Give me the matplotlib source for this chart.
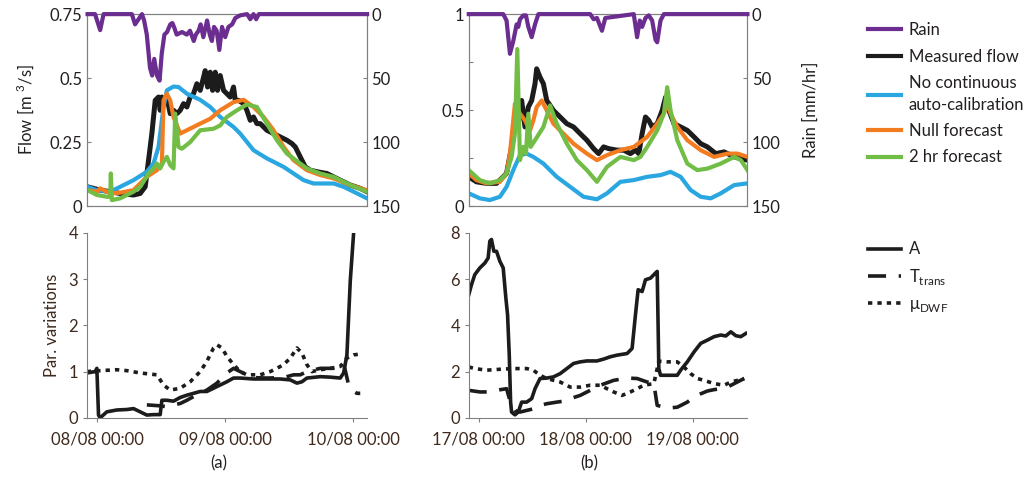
import matplotlib
matplotlib.use('Agg')
import matplotlib.pyplot as plt
from matplotlib.lines import Line2D

plt.rcParams['font.family'] = ['Lato', 'DejaVu Sans']
plt.rcParams['font.size'] = 12
plt.rcParams['mathtext.fontset'] = 'custom'
plt.rcParams['mathtext.rm'] = 'Lato'

# ---- panel (a): 08/08 - 10/08, time in hours from 08/08 00:00
rain_a_t = [-1.8, -0.4, 0.56, 1.2, 6.5, 7.1, 8.4, 8.8, 9.3, 9.9, 10.3, 10.7, 11.2, 11.7, 12.1, 12.6,
            13.1, 13.7, 14.1, 14.4, 14.9, 15.9, 16.8, 17.4, 18.1, 18.5, 19.0, 19.4, 19.9, 20.6, 21.1,
            21.5, 21.9, 22.4, 22.9, 23.4, 24.0, 24.6, 25.3, 25.9, 26.8, 28.1, 28.7, 29.3, 29.8, 30.3, 50.6]
rain_a = [0, 0, 12.5, 0, 0, 8, 0, 5, 16, 42, 48, 35, 48, 52, 31, 16,
          14, 8, 7, 10, 16, 14, 16, 13, 21, 16, 13, 8, 18, 5, 16,
          21, 10, 13, 28, 10, 18, 10, 8, 3, 1, 0, 4, 0, 4, 0, 0]

meas_a_t = [-1.8, 0.56, 2.44, 4.31, 6.81, 8.06, 9.0, 9.63, 10.25, 10.88, 11.5, 11.81, 12.13, 12.44,
            13.06, 13.69, 14.31, 14.94, 15.56, 16.19, 16.81, 17.44, 18.06, 18.69, 19.31, 19.94, 20.25,
            20.69, 21.19, 21.63, 22.13, 22.56, 23.06, 23.69, 24.31, 24.94, 25.56, 25.88, 26.5, 27.44,
            28.06, 28.69, 29.31, 29.94, 30.56, 31.19, 31.81, 33.06, 34.31, 35.56, 36.5, 37.13, 38.06,
            39.0, 39.94, 41.19, 43.06, 44.31, 45.56, 47.44, 49.31, 50.56]
meas_a = [0.075, 0.062, 0.056, 0.049, 0.043, 0.049, 0.075, 0.179, 0.283, 0.413, 0.426, 0.374, 0.426, 0.40,
          0.426, 0.361, 0.374, 0.361, 0.374, 0.40, 0.387, 0.426, 0.439, 0.478, 0.452, 0.503, 0.529,
          0.465, 0.523, 0.452, 0.523, 0.452, 0.51, 0.452, 0.439, 0.426, 0.465, 0.413, 0.413, 0.40,
          0.374, 0.335, 0.348, 0.322, 0.322, 0.309, 0.296, 0.283, 0.27, 0.257, 0.244, 0.231, 0.192,
          0.153, 0.14, 0.134, 0.127, 0.114, 0.101, 0.082, 0.069, 0.056]

nocal_a_t = [-1.8, -0.06, 2.44, 4.31, 6.81, 9.31, 10.56, 11.5, 12.44, 13.06, 14.31, 15.25, 16.81, 19.31,
             21.19, 23.06, 25.56, 26.81, 29.31, 31.81, 34.94, 36.81, 38.69, 40.56, 44.31, 46.19, 48.06, 50.56]
nocal_a = [0.075, 0.062, 0.056, 0.075, 0.101, 0.134, 0.166, 0.231, 0.387, 0.452, 0.467, 0.465, 0.439, 0.415,
           0.387, 0.348, 0.309, 0.283, 0.218, 0.186, 0.153, 0.127, 0.101, 0.088, 0.088, 0.075, 0.056, 0.03]

null_a_t = [-1.8, -0.06, 0.56, 2.44, 4.31, 6.81, 9.31, 11.19, 12.13, 12.44, 13.06, 13.69, 14.31, 15.56,
            16.81, 19.31, 21.19, 23.06, 25.56, 27.44, 29.31, 31.19, 33.06, 34.94, 36.81, 39.31, 41.81,
            44.31, 47.44, 50.56]
null_a = [0.062, 0.056, 0.069, 0.049, 0.052, 0.062, 0.114, 0.14, 0.166, 0.413, 0.439, 0.413, 0.348, 0.283,
          0.296, 0.322, 0.341, 0.374, 0.406, 0.415, 0.387, 0.348, 0.296, 0.231, 0.179, 0.14, 0.121,
          0.108, 0.082, 0.062]

fc2_a_t = [-1.8, -0.06, 1.81, 2.44, 2.56, 2.75, 4.31, 6.81, 8.06, 9.63, 10.56, 11.19, 11.81, 12.44, 13.06,
           13.69, 14.31, 14.63, 15.25, 15.88, 17.44, 19.31, 21.81, 23.06, 24.31, 26.19, 28.06, 29.94,
           31.81, 33.69, 35.56, 38.06, 39.31, 41.81, 44.31, 47.44, 50.56]
fc2_a = [0.062, 0.043, 0.036, 0.036, 0.127, 0.023, 0.03, 0.056, 0.075, 0.127, 0.147, 0.166, 0.147, 0.173, 0.192,
         0.16, 0.147, 0.361, 0.231, 0.224, 0.25, 0.296, 0.302, 0.315, 0.348, 0.374, 0.397, 0.387,
         0.322, 0.257, 0.205, 0.166, 0.147, 0.127, 0.114, 0.082, 0.056]

A_a_t = [-1.94, -0.38, -0.06, 0.25, 0.56, 1.81, 3.69, 5.56, 6.81, 8.06, 9.31, 10.56, 11.81, 12.13, 13.06,
         14.31, 15.56, 16.81, 18.06, 19.31, 20.56, 21.81, 23.06, 24.31, 25.56, 26.81, 29.31, 31.81,
         34.31, 36.19, 37.44, 38.38, 39.31, 41.81, 43.69, 45.56, 46.19, 46.81, 47.44, 48.06]
A_a = [0.97, 1.0, 1.07, 0.06, 0.0, 0.13, 0.17, 0.18, 0.2, 0.13, 0.06, 0.07, 0.07, 0.38, 0.38,
       0.36, 0.44, 0.49, 0.53, 0.57, 0.57, 0.64, 0.71, 0.78, 0.86, 0.86, 0.84, 0.84,
       0.84, 0.82, 0.75, 0.78, 0.86, 0.89, 0.88, 0.86, 0.97, 1.36, 2.96, 3.98]

Tt_a_t = [9.31, 11.81, 13.06, 14.31, 15.56, 16.81, 18.06, 19.31, 20.56, 22.44, 24.31, 25.56, 26.81, 28.06,
          29.31, 31.81, 34.94, 36.81, 38.06, 39.31, 41.81, 44.31, 46.19, 47.13, 47.75, 48.69, 49.31]
Tt_a = [0.28, 0.26, 0.24, 0.28, 0.31, 0.38, 0.46, 0.53, 0.6, 0.75, 0.97, 1.07, 1.0, 0.93,
        0.87, 0.86, 0.87, 0.93, 0.93, 1.0, 1.07, 1.07, 1.18, 0.71, 0.6, 0.53, 0.53]

mu_a_t = [-1.94, 0.56, 3.69, 5.56, 8.06, 11.19, 12.44, 13.69, 15.56, 17.44, 19.31, 20.56, 21.81, 22.44,
          23.38, 24.31, 25.56, 26.81, 28.06, 30.56, 32.44, 33.69, 34.94, 36.19, 37.44, 38.38, 39.31,
          40.25, 41.81, 43.69, 45.56, 46.81, 48.06, 49.31]
mu_a = [1.0, 1.02, 1.04, 1.02, 0.97, 0.93, 0.71, 0.6, 0.64, 0.78, 1.0, 1.22, 1.51, 1.58,
        1.51, 1.33, 1.15, 1.0, 0.93, 0.93, 1.0, 1.07, 1.15, 1.29, 1.51, 1.4, 1.15,
        1.0, 1.04, 1.07, 1.11, 1.29, 1.36, 1.38]

# ---- panel (b): 17/08 - 19/08, time in hours from 17/08 00:00
rain_b_t = [-2.25, 5.48, 6.23, 6.99, 7.74, 8.49, 8.86, 9.24, 9.99, 10.59, 11.12, 11.87, 12.62, 13.37,
            25.01, 25.77, 26.52, 27.64, 28.39, 34.78, 35.53, 36.13, 36.66, 37.41, 38.16, 38.91, 39.66,
            40.04, 40.79, 41.54, 60.3]
rain_b = [0, 0, 5, 31, 21, 8, 10, 4, 1, 1, 10, 18, 8, 0,
          0, 4, 3, 13, 3, 0, 18, 5, 10, 3, 1, 5, 20,
          22, 5, 0, 0]

meas_b_t = [-2.25, -0.53, 1.73, 3.98, 5.48, 6.23, 7.36, 8.11, 8.86, 9.62, 10.37, 11.12, 11.87, 12.62,
            12.99, 13.75, 14.5, 15.25, 16.75, 18.25, 19.76, 21.26, 22.76, 24.26, 25.77, 26.89, 28.02,
            29.15, 31.03, 32.53, 34.03, 35.16, 35.91, 36.66, 37.41, 38.16, 38.91, 40.04, 41.17, 41.92,
            42.67, 43.8, 45.3, 46.8, 48.31, 49.81, 51.31, 53.19, 55.06, 57.32, 58.82, 60.3]
meas_b = [0.152, 0.126, 0.118, 0.118, 0.152, 0.17, 0.308, 0.464, 0.429, 0.55, 0.412, 0.516, 0.55, 0.637,
          0.715, 0.671, 0.637, 0.55, 0.498, 0.464, 0.429, 0.412, 0.377, 0.343, 0.299, 0.273, 0.308,
          0.299, 0.291, 0.291, 0.273, 0.291, 0.273, 0.377, 0.464, 0.446, 0.412, 0.429, 0.498, 0.567,
          0.498, 0.429, 0.412, 0.394, 0.36, 0.325, 0.308, 0.273, 0.282, 0.256, 0.247, 0.239]

nocal_b_t = [-2.25, 0.23, 2.48, 4.73, 6.23, 7.74, 9.24, 10.74, 12.24, 14.5, 17.5, 20.51, 23.51, 26.52,
             28.77, 31.78, 34.78, 37.79, 40.79, 43.04, 45.3, 47.55, 49.81, 52.06, 54.31, 57.32, 60.3]
nocal_b = [0.066, 0.04, 0.031, 0.048, 0.1, 0.187, 0.265, 0.273, 0.256, 0.221, 0.152, 0.1, 0.048, 0.035,
           0.066, 0.126, 0.135, 0.152, 0.161, 0.178, 0.152, 0.083, 0.048, 0.04, 0.066, 0.109, 0.118]

null_b_t = [-2.25, -0.53, 1.73, 4.73, 6.23, 6.99, 8.11, 9.24, 10.37, 11.49, 12.24, 13.0, 14.12, 15.25,
            16.75, 19.0, 21.26, 24.26, 26.52, 28.77, 31.78, 34.78, 37.79, 40.04, 41.54, 42.29, 43.04,
            44.55, 46.8, 49.81, 52.81, 55.82, 58.07, 60.3]
null_b = [0.17, 0.135, 0.118, 0.126, 0.17, 0.273, 0.533, 0.481, 0.446, 0.394, 0.446, 0.516, 0.55, 0.498,
          0.429, 0.377, 0.325, 0.273, 0.239, 0.265, 0.291, 0.308, 0.36, 0.429, 0.481, 0.533, 0.481,
          0.412, 0.343, 0.291, 0.256, 0.273, 0.273, 0.256]

fc2_b_t = [-2.25, 0.23, 2.48, 4.73, 6.23, 7.36, 8.11, 8.64, 9.24, 9.99, 10.59, 11.12, 11.64, 12.62, 14.5,
           16.0, 17.5, 19.76, 22.01, 24.26, 26.52, 28.77, 31.78, 34.78, 36.28, 37.79, 40.04, 41.54,
           42.29, 43.04, 44.55, 46.8, 49.05, 51.31, 54.31, 57.32, 58.82, 60.3]
fc2_b = [0.187, 0.135, 0.118, 0.135, 0.17, 0.256, 0.377, 0.818, 0.239, 0.308, 0.273, 0.481, 0.308, 0.343, 0.412,
         0.524, 0.429, 0.325, 0.239, 0.187, 0.126, 0.204, 0.256, 0.239, 0.256, 0.308, 0.394, 0.481,
         0.619, 0.498, 0.343, 0.221, 0.187, 0.195, 0.221, 0.256, 0.239, 0.187]

A_b_t = [-2.25, -1.65, -0.9, 0.23, 1.35, 2.1, 2.48, 2.85, 3.38, 3.98, 4.73, 5.48, 6.08, 6.46, 6.84, 7.14,
         7.36, 8.11, 8.86, 9.62, 10.74, 11.87, 12.62, 13.75, 15.25, 16.75, 18.25, 19.76, 21.26, 22.76,
         24.26, 26.52, 28.02, 29.52, 31.03, 33.28, 34.41, 35.16, 35.76, 36.66, 37.41, 38.54, 39.66,
         40.04, 40.41, 40.79, 42.29, 44.55, 45.3, 46.8, 48.31, 49.81, 51.31, 52.81, 54.31, 55.44,
         56.57, 57.69, 58.82, 59.95]
A_b = [5.32, 5.75, 6.19, 6.48, 6.69, 6.91, 7.64, 7.71, 7.2, 7.2, 6.77, 6.48, 5.17, 4.45, 2.71, 0.68,
       0.25, 0.13, 0.25, 0.68, 0.68, 0.83, 1.26, 1.7, 1.72, 1.77, 1.91, 2.13, 2.35, 2.42,
       2.46, 2.46, 2.54, 2.64, 2.71, 2.78, 3.0, 4.45, 5.54, 5.46, 5.97, 6.04, 6.26,
       6.33, 2.13, 1.84, 1.84, 1.84, 2.06, 2.42, 2.85, 3.22, 3.36, 3.51, 3.58, 3.54,
       3.72, 3.55, 3.51, 3.65]

Tt_b_t = [-2.25, 0.23, 2.1, 3.98, 6.23, 6.99, 8.11, 9.24, 12.24, 13.75, 15.25, 17.5, 19.0, 20.51, 22.76,
          25.01, 27.27, 30.27, 33.28, 35.53, 37.79, 39.29, 40.04, 42.29, 44.55, 46.8, 48.31, 49.81,
          51.31, 52.81, 54.31, 55.82, 57.32, 59.57]
Tt_b = [1.19, 1.12, 1.12, 1.19, 1.26, 0.75, 0.32, 0.25, 0.39, 0.54, 0.61, 0.68, 0.72, 0.83, 0.97,
        1.19, 1.41, 1.62, 1.72, 1.7, 1.55, 1.48, 0.54, 0.42, 0.46, 0.68, 0.9, 1.04,
        1.16, 1.22, 1.26, 1.33, 1.48, 1.7]

mu_b_t = [-2.25, -0.9, 1.73, 4.73, 7.74, 10.74, 12.24, 13.75, 15.25, 18.25, 20.51, 22.76, 25.01, 27.27,
          28.77, 30.27, 32.15, 34.03, 35.53, 37.03, 39.29, 40.41, 42.29, 44.55, 46.05, 47.55, 49.05,
          50.56, 52.81, 55.06, 56.57, 58.07, 59.57]
mu_b = [2.2, 2.13, 2.06, 2.1, 2.13, 2.13, 2.06, 1.84, 1.7, 1.55, 1.33, 1.33, 1.41, 1.41,
        1.26, 1.12, 0.97, 1.12, 1.26, 1.41, 1.48, 2.45, 2.42, 2.42, 2.2, 1.91, 1.7,
        1.62, 1.48, 1.41, 1.55, 1.62, 1.7]

tick_hours = [0, 24, 48]
labels_a = ['08/08 00:00', '09/08 00:00', '10/08 00:00']
labels_b = ['17/08 00:00', '18/08 00:00', '19/08 00:00']

c_rain = '#6b2d8f'
c_meas = '#1c1c1c'
c_nocal = '#2aa6e0'
c_null = '#f47c20'
c_fc2 = '#72bd45'
brown = '#3f2a1d'
grey = '#808080'
dark = '#231f20'
fs = 12

fig = plt.figure(figsize=(10.24, 4.87), dpi=100)
ax_ta = fig.add_axes([0.085, 0.577, 0.273, 0.394])
ax_tb = fig.add_axes([0.458, 0.577, 0.2715, 0.394])
ax_ba = fig.add_axes([0.085, 0.142, 0.273, 0.38])
ax_bb = fig.add_axes([0.458, 0.142, 0.2715, 0.38])

xlim_a = (-1.9, 50.5)
xlim_b = (-2.2, 60.2)

lw = 3.0
for ax, xl, ymax, yt, ytl, data in [
        (ax_ta, xlim_a, 0.75, [0, 0.25, 0.5, 0.75], ['0', '0.25', '0.5', '0.75'],
         (rain_a_t, rain_a, meas_a_t, meas_a, nocal_a_t, nocal_a, null_a_t, null_a, fc2_a_t, fc2_a)),
        (ax_tb, xlim_b, 1.0, [0, 0.25, 0.5, 0.75, 1.0], ['0', '', '0.5', '', '1'],
         (rain_b_t, rain_b, meas_b_t, meas_b, nocal_b_t, nocal_b, null_b_t, null_b, fc2_b_t, fc2_b))]:
    rt, rv, mt, mv, nt, nv, ot, ov, gt, gv = data
    ax.plot(mt, mv, color=c_meas, lw=3.6, zorder=2)
    ax.plot(nt, nv, color=c_nocal, lw=lw, zorder=3)
    ax.plot(ot, ov, color=c_null, lw=lw, zorder=4)
    ax.plot(gt, gv, color=c_fc2, lw=lw, zorder=5)
    ax.set_xlim(*xl)
    ax.set_ylim(0, ymax)
    ax.set_yticks(yt)
    ax.set_yticklabels(ytl)
    ax.set_xticks([])
    ax.tick_params(axis='y', direction='in', length=3, color=grey, labelcolor=dark, labelsize=fs)
    for s in ax.spines.values():
        s.set_color(grey)
        s.set_linewidth(0.8)
    axr = ax.twinx()
    axr.plot(rt, rv, color=c_rain, lw=lw, zorder=6, clip_on=False)
    axr.set_ylim(150, 0)
    axr.set_yticks([0, 50, 100, 150])
    axr.set_xlim(*xl)
    axr.tick_params(axis='y', direction='in', length=3, color=grey, labelcolor=dark, labelsize=fs)
    for s in axr.spines.values():
        s.set_color(grey)
        s.set_linewidth(0.8)
    if ax is ax_tb:
        axr.set_ylabel('Rain [mm/hr]', color=dark, fontsize=fs, labelpad=16)
    axr.set_zorder(ax.get_zorder() + 1)
    axr.patch.set_visible(False)

ax_ta.set_ylabel('Flow [m $^{3}$/s]', color=dark, fontsize=fs, labelpad=10)

dash = (0, (5, 3.5))
dot = (0, (1.2, 1.4))
blw = 2.6
for ax, xl, ymax, yt, lab, data in [
        (ax_ba, xlim_a, 4, [0, 1, 2, 3, 4], labels_a,
         (A_a_t, A_a, Tt_a_t, Tt_a, mu_a_t, mu_a)),
        (ax_bb, xlim_b, 8, [0, 2, 4, 6, 8], labels_b,
         (A_b_t, A_b, Tt_b_t, Tt_b, mu_b_t, mu_b))]:
    at, av, tt, tv, ut, uv = data
    ax.plot(ut, uv, color=c_meas, lw=blw, linestyle=dot, dash_capstyle='butt')
    ax.plot(tt, tv, color=c_meas, lw=blw, linestyle=dash, dash_capstyle='butt')
    ax.plot(at, av, color=c_meas, lw=blw)
    ax.set_xlim(*xl)
    ax.set_ylim(0, ymax)
    ax.set_yticks(yt)
    ax.set_xticks(tick_hours)
    ax.set_xticklabels(lab)
    ax.spines['top'].set_visible(False)
    ax.spines['right'].set_visible(False)
    for s in ['left', 'bottom']:
        ax.spines[s].set_color(grey)
        ax.spines[s].set_linewidth(0.8)
    ax.tick_params(direction='out', length=3, color=grey, labelcolor=brown, labelsize=fs)
    ax.tick_params(axis='x', pad=7)

ax_ba.set_ylabel('Par. variations', color=brown, fontsize=fs, labelpad=6)

fig.text(0.214, 0.049, '(a)', color=dark, fontsize=fs, ha='center', va='center')
fig.text(0.575, 0.049, '(b)', color=dark, fontsize=fs, ha='center', va='center')

h1 = [Line2D([], [], color=c_rain, lw=lw),
      Line2D([], [], color=c_meas, lw=lw),
      Line2D([], [], color=c_nocal, lw=lw),
      Line2D([], [], color=c_null, lw=lw),
      Line2D([], [], color=c_fc2, lw=lw)]
l1 = ['Rain', 'Measured flow', 'No continuous\nauto-calibration', 'Null forecast', '2 hr forecast']
leg1 = fig.legend(h1, l1, loc='upper left', bbox_to_anchor=(0.833, 0.985), frameon=False,
                  handlelength=2.0, handletextpad=0.45, labelspacing=0.62, fontsize=fs,
                  labelcolor=dark)
for t in leg1.get_texts():
    t.set_linespacing(1.45)

h2 = [Line2D([], [], color=c_meas, lw=blw),
      Line2D([], [], color=c_meas, lw=blw, linestyle=dash, dash_capstyle='butt'),
      Line2D([], [], color=c_meas, lw=blw, linestyle=dot, dash_capstyle='butt')]
l2 = ['A', r'T$_{\rm trans}$', r'$\mathrm{\mu}_{\rm DWF}$']
fig.legend(h2, l2, loc='upper left', bbox_to_anchor=(0.833, 0.535), frameon=False,
           handlelength=2.0, handletextpad=0.45, labelspacing=0.55, fontsize=fs,
           labelcolor=dark)

fig.savefig('out.png', dpi=100)
